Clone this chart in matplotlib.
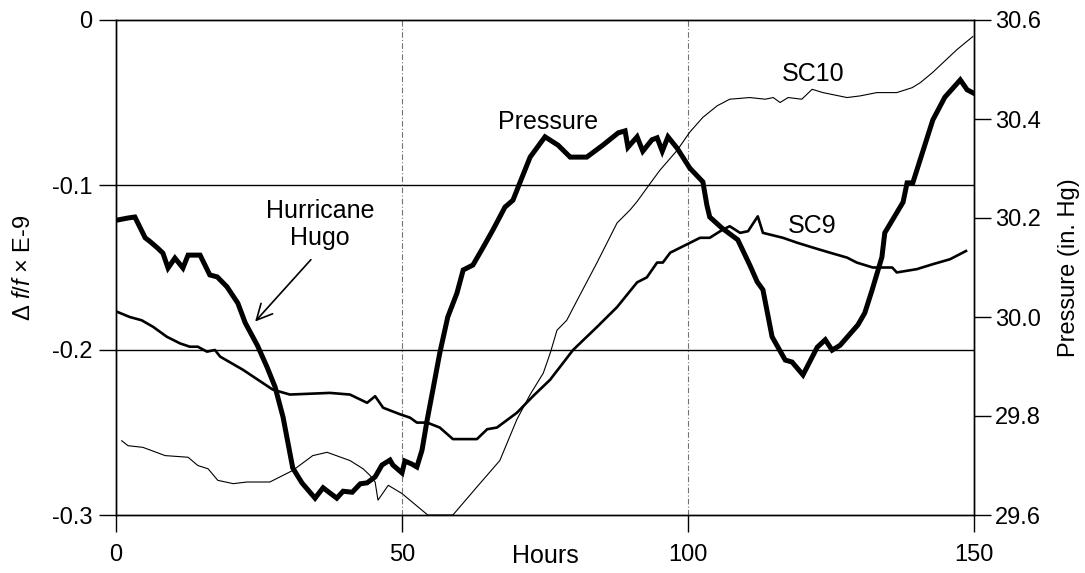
import matplotlib
matplotlib.use("Agg")
import matplotlib.pyplot as plt

plt.rcParams['font.family'] = ['Liberation Sans', 'DejaVu Sans']
plt.rcParams['axes.unicode_minus'] = False
plt.rcParams['mathtext.fontset'] = 'custom'
plt.rcParams['mathtext.rm'] = 'Liberation Sans'
plt.rcParams['mathtext.it'] = 'Liberation Sans:italic'

# pressure (in. Hg), right axis
p_hours = [0.3, 2.1, 3.3, 5.1, 6.0, 7.3, 8.2, 9.1, 10.3, 11.7, 12.6, 14.7, 16.4, 17.7,
           19.4, 21.3, 22.6, 24.7, 26.4, 27.8, 29.2, 30.9, 32.5, 34.8, 36.2, 38.6, 39.7,
           41.3, 42.7, 43.9, 45.3, 46.5, 47.9, 48.4, 50.0, 50.5, 51.7, 52.6, 53.5, 54.4,
           55.4, 56.6, 58.0, 59.6, 60.7, 62.4, 64.2, 65.9, 68.0, 69.4, 70.6, 72.4, 75.0,
           77.3, 79.4, 82.3, 85.1, 87.8, 89.0, 89.5, 91.1, 92.1, 93.7, 94.6, 95.5, 96.5,
           98.1, 100.3, 102.6, 103.3, 103.8, 105.9, 108.7, 110.8, 112.1, 113.1, 114.7,
           117.0, 118.2, 120.1, 122.6, 124.0, 125.2, 126.6, 129.7, 130.9, 132.2, 133.9,
           134.4, 137.6, 138.3, 139.3, 142.8, 144.9, 147.6, 148.8, 149.8]
pressure = [30.196, 30.200, 30.202, 30.160, 30.152, 30.139, 30.129, 30.099, 30.119, 30.099,
            30.125, 30.125, 30.085, 30.081, 30.061, 30.028, 29.988, 29.943, 29.899, 29.859,
            29.798, 29.695, 29.665, 29.634, 29.655, 29.634, 29.648, 29.646, 29.663, 29.665,
            29.677, 29.701, 29.711, 29.701, 29.685, 29.709, 29.703, 29.697, 29.731, 29.792,
            29.853, 29.927, 30.000, 30.048, 30.095, 30.105, 30.141, 30.176, 30.222, 30.236,
            30.271, 30.323, 30.364, 30.347, 30.323, 30.323, 30.347, 30.372, 30.376, 30.343,
            30.364, 30.335, 30.358, 30.362, 30.335, 30.364, 30.341, 30.301, 30.273, 30.226,
            30.202, 30.180, 30.156, 30.105, 30.071, 30.055, 29.960, 29.913, 29.909, 29.883,
            29.939, 29.954, 29.933, 29.943, 29.984, 30.008, 30.055, 30.121, 30.170, 30.232,
            30.271, 30.271, 30.398, 30.444, 30.479, 30.459, 30.453]

# SC9, left axis
sc9_hours = [0.3, 2.4, 4.5, 6.5, 8.9, 11.2, 12.9, 14.3, 15.9, 17.3, 18.2, 22.2, 27.4, 30.4,
             37.4, 40.9, 43.9, 45.3, 46.7, 49.7, 51.4, 52.6, 54.4, 56.6, 58.9, 63.1, 64.9,
             66.6, 70.1, 72.9, 75.9, 79.9, 84.1, 87.6, 91.1, 92.8, 94.6, 95.6, 96.9, 99.8,
             102.1, 103.8, 106.1, 107.3, 109.1, 110.5, 112.2, 113.1, 116.6, 119.1, 121.9,
             124.8, 127.8, 129.5, 132.3, 135.7, 136.5, 140.0, 142.8, 145.8, 148.6]
sc9 = [-0.177, -0.180, -0.182, -0.186, -0.192, -0.196, -0.198, -0.198, -0.201, -0.200,
       -0.204, -0.212, -0.224, -0.227, -0.226, -0.227, -0.232, -0.228, -0.235, -0.239,
       -0.241, -0.244, -0.244, -0.247, -0.254, -0.254, -0.248, -0.247, -0.238, -0.228,
       -0.218, -0.200, -0.186, -0.174, -0.159, -0.156, -0.147, -0.147, -0.141, -0.136,
       -0.132, -0.132, -0.127, -0.125, -0.129, -0.128, -0.119, -0.129, -0.132, -0.135,
       -0.138, -0.141, -0.144, -0.147, -0.150, -0.150, -0.153, -0.151, -0.148, -0.145,
       -0.140]

# SC10, left axis
sc10_hours = [1.0, 2.1, 4.7, 8.6, 12.6, 14.3, 16.1, 17.8, 20.5, 22.9, 26.9, 30.9, 34.4, 36.9,
              40.9, 43.2, 44.4, 45.3, 45.8, 47.6, 50.0, 54.5, 58.9, 63.1, 67.1, 70.1, 72.4,
              74.7, 75.9, 77.1, 78.8, 80.6, 84.1, 87.6, 89.9, 91.1, 93.4, 95.1, 98.1, 100.3,
              102.6, 105.1, 107.3, 110.8, 113.5, 114.9, 116.1, 117.5, 119.9, 121.7, 123.6,
              127.8, 130.1, 133.0, 136.5, 139.2, 140.6, 142.7, 147.0, 149.8]
sc10 = [-0.255, -0.258, -0.259, -0.264, -0.265, -0.270, -0.272, -0.279, -0.281, -0.280,
        -0.280, -0.273, -0.264, -0.262, -0.267, -0.272, -0.276, -0.280, -0.291, -0.282,
        -0.287, -0.300, -0.300, -0.283, -0.267, -0.242, -0.227, -0.214, -0.202, -0.188,
        -0.182, -0.170, -0.147, -0.123, -0.115, -0.110, -0.099, -0.091, -0.079, -0.068,
        -0.059, -0.052, -0.048, -0.047, -0.048, -0.047, -0.050, -0.047, -0.048, -0.042,
        -0.044, -0.047, -0.046, -0.044, -0.044, -0.041, -0.038, -0.032, -0.018, -0.010]

x_ticks = [0, 50, 100, 150]
left_ticks = [0, -0.1, -0.2, -0.3]
left_labels = ['0', '-0.1', '-0.2', '-0.3']
right_ticks = [29.6, 29.8, 30.0, 30.2, 30.4, 30.6]

fig = plt.figure(figsize=(10.85, 5.73), dpi=100)
ax = fig.add_axes([116/1085, 1-515/573, 858/1085, 495/573])
ax2 = ax.twinx()

# grid
for v in [-0.1, -0.2]:
    ax.axhline(v, color='black', lw=1.0, zorder=1)
for h in [50, 100]:
    ax.axvline(h, color='0.45', lw=0.8, linestyle=(0, (5, 2, 1, 2)), zorder=1)

ax.plot(sc10_hours, sc10, color='black', lw=0.8, zorder=3)
ax.plot(sc9_hours, sc9, color='black', lw=1.9, zorder=3)
ax2.plot(p_hours, pressure, color='black', lw=3.6, solid_joinstyle='miter', zorder=3)

ax.set_xlim(0, 150)
ax.set_ylim(-0.3, 0)
ax2.set_ylim(29.6, 30.6)
ax.set_xticks(x_ticks)
ax.set_yticks(left_ticks)
ax.set_yticklabels(left_labels)
ax2.set_yticks(right_ticks)
ax2.set_yticklabels(['%.1f' % t for t in right_ticks])

for a in (ax, ax2):
    a.tick_params(direction='out', length=12, width=1, labelsize=17, pad=3)
    for s in a.spines.values():
        s.set_linewidth(1.0)
ax.tick_params(axis='x', pad=9)
ax.tick_params(axis='y', pad=5)

ax.set_xlabel('Hours', fontsize=18)
ax.xaxis.set_label_coords(0.5, -0.058)
ax.set_ylabel('Δ $f/f$ × E-9', fontsize=17)
ax.yaxis.set_label_coords(-0.094, 0.5)
ax2.set_ylabel('Pressure (in. Hg)', fontsize=17)
ax2.yaxis.set_label_coords(1.098, 0.5)

ax.text(66.8, -0.062, 'Pressure', fontsize=18, ha='left', va='center', zorder=5)
ax.text(116.4, -0.033, 'SC10', fontsize=18, ha='left', va='center', zorder=5)
ax.text(117.5, -0.125, 'SC9', fontsize=18, ha='left', va='center', zorder=5)
ax.text(35.7, -0.124, 'Hurricane\nHugo', fontsize=18, ha='center', va='center',
        multialignment='center', linespacing=1.15, zorder=5)
ax.annotate('', xy=(24.0, -0.184), xytext=(34.4, -0.144),
            arrowprops=dict(arrowstyle='->', lw=1.2, mutation_scale=28, color='black'))

fig.savefig('out.png', dpi=100)
